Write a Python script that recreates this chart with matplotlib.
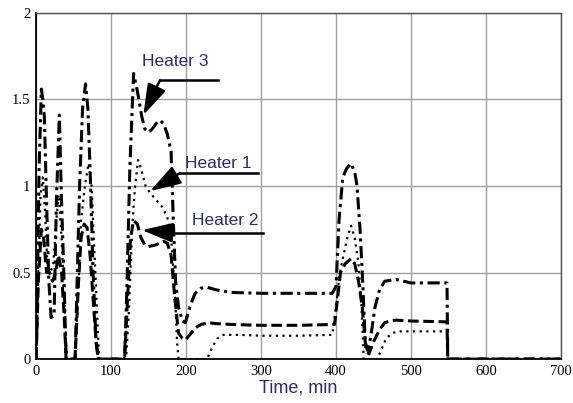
import numpy as np
import matplotlib
matplotlib.use("Agg")
import matplotlib.pyplot as plt

# data (time in min)
t_h3 = [0, 1, 2, 4, 7, 9, 11, 14, 17, 20, 24, 27, 31, 34, 37, 40, 52, 55, 58, 62, 66, 69, 72, 76, 80, 83,
        118, 121, 125, 130, 135, 141, 145, 150, 155, 160, 165, 170, 175, 180, 183, 186, 190, 195, 199,
        205, 212, 220, 228, 240, 260, 300, 350, 395, 400, 404, 409, 414, 420, 425, 428, 432, 435, 439,
        442, 446, 452, 458, 465, 480, 500, 548, 549, 700]
y_h3 = [0, 0.2, 0.5, 1.1, 1.56, 1.5, 1.4, 0.9, 0.45, 0.24, 0.25, 0.9, 1.41, 0.9, 0.5, 0, 0, 0.5, 1.0, 1.45,
        1.59, 1.45, 1.1, 0.5, 0.1, 0,
        0, 0.4, 1.1, 1.65, 1.55, 1.40, 1.33, 1.31, 1.33, 1.36, 1.38, 1.36, 1.3, 1.2, 0.8, 0.45, 0.3, 0.22, 0.21,
        0.3, 0.38, 0.41, 0.415, 0.4, 0.385, 0.38, 0.38, 0.38, 0.42, 0.8, 1.05, 1.1, 1.13, 1.08, 1.0, 0.75, 0.5,
        0.1, 0.05, 0.12, 0.3, 0.4, 0.45, 0.46, 0.44, 0.44, 0, 0]

t_h2 = [0, 1, 3, 7, 10, 14, 18, 22, 26, 30, 34, 38, 40, 52, 56, 60, 64, 68, 72, 76, 80, 83,
        118, 122, 126, 130, 135, 140, 145, 150, 160, 170, 175, 180, 185, 190, 195, 199, 205, 212, 220,
        230, 240, 260, 300, 350, 398, 402, 406, 412, 420, 425, 430, 435, 440, 444, 450, 458, 465, 472,
        480, 500, 548, 549, 700]
y_h2 = [0, 0.15, 0.45, 0.75, 0.7, 0.5, 0.5, 0.45, 0.5, 0.6, 0.5, 0.2, 0, 0, 0.4, 0.7, 0.78, 0.76, 0.6, 0.35,
        0.1, 0,
        0, 0.35, 0.7, 0.8, 0.78, 0.7, 0.66, 0.65, 0.66, 0.68, 0.67, 0.6, 0.35, 0.15, 0.12, 0.11, 0.14, 0.18,
        0.2, 0.21, 0.205, 0.2, 0.195, 0.195, 0.2, 0.35, 0.5, 0.55, 0.58, 0.55, 0.45, 0.3, 0.05, 0.03, 0.1,
        0.17, 0.21, 0.22, 0.225, 0.22, 0.215, 0, 0]

t_h1 = [0, 1, 3, 6, 9, 12, 15, 19, 23, 27, 30, 34, 38, 41, 52, 56, 60, 65, 70, 74, 78, 82, 84,
        120, 124, 128, 132, 136, 140, 146, 152, 160, 168, 175, 180, 185, 188, 190, 228, 235, 242, 250,
        270, 300, 350, 395, 400, 405, 410, 415, 420, 425, 430, 434, 437, 455, 460, 467, 475, 483, 500,
        548, 549, 700]
y_h1 = [0, 0.1, 0.5, 0.95, 1.05, 0.85, 0.55, 0.5, 0.55, 0.8, 0.95, 0.7, 0.3, 0, 0, 0.35, 0.8, 1.0, 1.13,
        1.0, 0.6, 0.2, 0,
        0, 0.3, 0.75, 1.0, 1.15, 1.1, 1.0, 0.96, 0.92, 0.88, 0.82, 0.7, 0.4, 0.1, 0, 0, 0.07, 0.12, 0.14,
        0.14, 0.135, 0.135, 0.14, 0.3, 0.5, 0.6, 0.7, 0.77, 0.7, 0.55, 0.3, 0, 0, 0.05, 0.12, 0.15, 0.16,
        0.16, 0.16, 0, 0]

x_ticks = [0, 100, 200, 300, 400, 500, 600, 700]
y_ticks = [0, 0.5, 1, 1.5, 2]
y_tick_labels = ['0', '0.5', '1', '1.5', '2']

txt_color = '#2a2a72'

fig = plt.figure(figsize=(5.73, 4.03), dpi=100)
ax = fig.add_axes([0.063, 0.109, 0.916, 0.859])

ax.plot(t_h3, y_h3, color='black', lw=2.2, dashes=(4, 1.5, 1, 1.5))
ax.plot(t_h2, y_h2, color='black', lw=2.2, dashes=(3.5, 1.5))
ax.plot(t_h1, y_h1, color='black', lw=1.6, dashes=(1, 2))

ax.set_xlim(0, 700)
ax.set_ylim(0, 2)
ax.set_xticks(x_ticks)
ax.set_yticks(y_ticks)
ax.set_yticklabels(y_tick_labels)
ax.grid(True, color='#a0a0a0', lw=1)
ax.set_axisbelow(True)
ax.tick_params(length=0, labelsize=10.5, pad=4)
for lab in ax.get_xticklabels() + ax.get_yticklabels():
    lab.set_family('Liberation Serif')
for s in ['left', 'bottom']:
    ax.spines[s].set_color('black')
    ax.spines[s].set_linewidth(1.3)
for s in ['top', 'right']:
    ax.spines[s].set_color('#505050')
    ax.spines[s].set_linewidth(1.0)

ax.set_xlabel('Time, min', fontsize=13, color=txt_color, family='Liberation Sans', labelpad=1)

# labels with leader lines + arrows
notes = [
    ('Heater 3', (185, 1.72), (243, 165, 1.61), (143, 1.41)),
    ('Heater 1', (243, 1.13), (296, 192, 1.075), (152, 0.97)),
    ('Heater 2', (252, 0.80), (303, 183, 0.73), (141, 0.745)),
]
for txt, pos, line, tip in notes:
    ax.text(pos[0], pos[1], txt, fontsize=12.5, color=txt_color, family='Liberation Sans',
            ha='center', va='center')
    ax.plot([line[0], line[1]], [line[2], line[2]], color='black', lw=1.8)
    ax.annotate('', xy=tip, xytext=(line[1], line[2]),
                arrowprops=dict(arrowstyle='-|>,head_length=1.9,head_width=0.6',
                                color='black', lw=1.8, shrinkA=0, shrinkB=0))

fig.savefig('out.png', dpi=100)
